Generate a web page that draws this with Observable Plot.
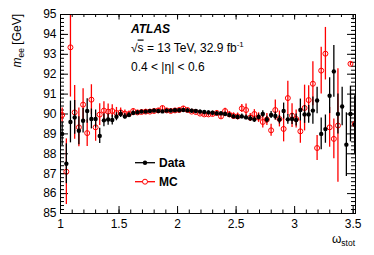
<!DOCTYPE html>
<html><head><meta charset="utf-8">
<script src="https://cdn.jsdelivr.net/npm/d3@7"></script>
<script src="https://cdn.jsdelivr.net/npm/@observablehq/plot@0.6"></script>
<style>
html,body{margin:0;padding:0;background:#fff;}
#chart{width:374px;height:255px;}
</style></head><body><div id="chart"></div>
<script>
// bin centres (omega_stot)
const omega = [1.014,1.050,1.085,1.121,1.157,1.193,1.228,1.264,1.300,1.335,
1.371,1.407,1.442,1.478,1.514,1.550,1.585,1.621,1.657,1.692,
1.728,1.764,1.799,1.835,1.871,1.907,1.942,1.978,2.014,2.049,
2.085,2.121,2.156,2.192,2.228,2.264,2.299,2.335,2.371,2.406,
2.442,2.478,2.513,2.549,2.585,2.621,2.656,2.692,2.728,2.763,
2.799,2.835,2.870,2.906,2.942,2.978,3.013,3.049,3.085,3.120,
3.156,3.192,3.227,3.263,3.299,3.335,3.370,3.406,3.442,3.477,3.513];

const dataVal = [89.0,87.5,89.6,89.83,89.16,89.66,90.15,89.75,89.75,88.9,
89.68,89.72,89.7,89.86,90.0,89.88,89.95,90.05,90.08,90.12,
90.12,90.15,90.17,90.15,90.13,90.17,90.17,90.19,90.19,90.2,
90.18,90.16,90.15,90.12,90.1,90.08,90.06,90.03,90.03,90.0,
89.95,89.88,89.85,89.88,89.83,89.78,89.72,89.85,90.0,89.72,
89.95,89.9,89.72,90.15,89.73,89.75,89.7,90.2,89.98,89.98,
90.17,90.68,89.0,89.24,90.92,92.14,90.0,90.38,88.46,90.0,89.47];
const dataErr = [0.6,1.0,1.05,0.85,0.7,0.62,0.62,0.5,0.45,0.38,
0.32,0.28,0.25,0.2,0.18,0.15,0.12,0.1,0.09,0.08,
0.08,0.08,0.08,0.08,0.08,0.08,0.08,0.08,0.08,0.08,
0.08,0.08,0.08,0.08,0.08,0.08,0.09,0.09,0.1,0.1,
0.1,0.1,0.11,0.12,0.12,0.13,0.14,0.15,0.16,0.17,
0.18,0.2,0.22,0.4,0.25,0.28,0.3,0.55,0.45,0.45,
0.68,0.67,0.8,0.71,0.9,1.3,1.0,0.97,1.6,1.4,1.45];

const mcVal = [89.95,87.1,93.35,90.08,89.33,90.47,89.04,90.72,89.33,89.97,
90.17,90.12,90.15,90.05,90.08,90.02,90.0,90.15,90.08,90.1,
90.12,90.12,90.15,90.18,90.3,90.18,90.15,90.18,90.2,90.28,
90.2,90.12,90.1,90.02,89.98,89.98,90.0,90.05,89.88,90.15,
89.98,89.9,89.88,90.28,90.2,89.82,90.0,89.82,89.6,89.72,
89.18,90.2,89.75,89.25,90.8,89.92,89.75,89.13,90.3,90.7,
91.52,88.29,92.18,93.03,89.33,88.75,89.42,null,null,92.52,89.5];
const mcErr = [0.35,1.65,2.5,1.35,0.97,0.8,0.67,0.75,0.7,0.55,
0.45,0.38,0.32,0.28,0.22,0.18,0.15,0.12,0.1,0.1,
0.1,0.1,0.1,0.1,0.1,0.1,0.1,0.1,0.1,0.1,
0.1,0.1,0.1,0.1,0.11,0.11,0.12,0.12,0.13,0.14,
0.15,0.16,0.17,0.2,0.3,0.2,0.22,0.24,0.3,0.3,
0.3,0.5,0.4,0.65,0.85,0.6,0.45,0.6,1.15,0.72,
1.1,0.63,1.17,1.32,1.0,1.0,2.85,null,null,0.1,0.97];

const xTickLabels = [1, 1.5, 2, 2.5, 3, 3.5];
const yTickLabels = [85, 86, 87, 88, 89, 90, 91, 92, 93, 94, 95];

const rows = (vals, errs) => omega.map((x, i) => ({x, v: vals[i], e: errs[i]})).filter(d => d.v != null);
const dataRows = rows(dataVal, dataErr);
const mcRows = rows(mcVal, mcErr);

const W = 374, H = 255, mL = 60, mR = 19, mT = 14, mB = 42;
const fH = H - mT - mB, fW = W - mL - mR;
const font = "'Liberation Sans', Arial, Helvetica, sans-serif";
const xMinor = d3.range(10, 36).map(d => d / 10);
const yMinor = d3.range(425, 476).map(d => d / 5);
const RED = "#ff0000";

const plot = Plot.plot({
  width: W, height: H,
  marginLeft: mL, marginRight: mR, marginTop: mT, marginBottom: mB,
  style: {fontFamily: font, fontSize: "12px", background: "white", color: "black", overflow: "visible"},
  x: {domain: [1, 3.52]},
  y: {domain: [85, 95]},
  marks: [
    Plot.tickX(xMinor, {x: d => d, insetTop: fH - 3.5, stroke: "black"}),
    Plot.tickX(xTickLabels, {x: d => d, insetTop: fH - 7, stroke: "black"}),
    Plot.tickX(xMinor, {x: d => d, insetBottom: fH - 3, stroke: "black"}),
    Plot.tickX(xTickLabels, {x: d => d, insetBottom: fH - 5.5, stroke: "black"}),
    Plot.tickY(yMinor, {y: d => d, insetRight: fW - 4, stroke: "black"}),
    Plot.tickY(yTickLabels, {y: d => d, insetRight: fW - 8, stroke: "black"}),
    Plot.tickY(yMinor, {y: d => d, insetLeft: fW - 4, stroke: "black"}),
    Plot.tickY(yTickLabels, {y: d => d, insetLeft: fW - 8, stroke: "black"}),
    Plot.axisX(xTickLabels, {anchor: "bottom", tickSize: 0, tickPadding: 6, fontSize: 12, tickFormat: d => String(d), label: null}),
    Plot.axisY(yTickLabels, {anchor: "left", tickSize: 0, tickPadding: 4, fontSize: 12, tickFormat: d => String(d), label: null}),
    Plot.ruleX(mcRows, {x: "x", y1: d => d.v - d.e, y2: d => d.v + d.e, stroke: RED, strokeWidth: 1.3, clip: true}),
    Plot.dot(mcRows, {x: "x", y: "v", r: 2.5, fill: "none", stroke: RED, strokeWidth: 1, clip: true}),
    Plot.ruleX(dataRows, {x: "x", y1: d => d.v - d.e, y2: d => d.v + d.e, stroke: "black", strokeWidth: 1.3, clip: true}),
    Plot.dot(dataRows, {x: "x", y: "v", r: 2.2, fill: "black", stroke: "none", clip: true}),
    Plot.frame({stroke: "black", strokeWidth: 1})
  ]
});
document.getElementById("chart").appendChild(plot);

const svg = d3.select(plot);
const g = svg.append("g").attr("font-family", font).attr("fill", "black").attr("text-anchor", "start");

// y-axis title
const yt = g.append("text").attr("transform", "translate(21,14) rotate(-90)")
  .attr("text-anchor", "end").attr("font-size", 12);
yt.append("tspan").attr("font-style", "italic").text("m");
yt.append("tspan").attr("font-size", 8.5).attr("dy", 2.5).text("ee");
yt.append("tspan").attr("dy", -2.5).text(" [GeV]");

// x-axis title
const xt = g.append("text").attr("x", 355).attr("y", 243).attr("text-anchor", "end").attr("font-size", 12);
xt.append("tspan").text("ω");
xt.append("tspan").attr("font-size", 8.5).attr("dy", 3).text("stot");

// ATLAS label
g.append("text").attr("x", 131).attr("y", 33).attr("font-size", 12)
  .attr("font-weight", "bold").attr("font-style", "italic").text("ATLAS");
const t2 = g.append("text").attr("x", 131).attr("y", 51.5).attr("font-size", 12);
t2.append("tspan").text("√");
t2.append("tspan").attr("text-decoration", "overline").text("s");
t2.append("tspan").text(" = 13 TeV, 32.9 fb");
t2.append("tspan").attr("font-size", 8).attr("dy", -5).text("-1");
g.append("text").attr("x", 131).attr("y", 70.5).attr("font-size", 12).text("0.4 < |η| < 0.6");

// legend
const leg = [{label: "Data", y: 162.7, color: "black", fill: "black", r: 2.2},
             {label: "MC", y: 181.7, color: RED, fill: "none", r: 2.5}];
leg.forEach(d => {
  g.append("line").attr("x1", 135).attr("x2", 155).attr("y1", d.y).attr("y2", d.y)
    .attr("stroke", d.color).attr("stroke-width", 1.3);
  g.append("circle").attr("cx", 145).attr("cy", d.y).attr("r", d.r)
    .attr("fill", d.fill === "none" ? "white" : d.fill).attr("stroke", d.fill === "none" ? d.color : "none");
  g.append("text").attr("x", 159).attr("y", d.y + 4.3).attr("font-size", 12)
    .attr("font-weight", "bold").text(d.label);
});
</script></body></html>
